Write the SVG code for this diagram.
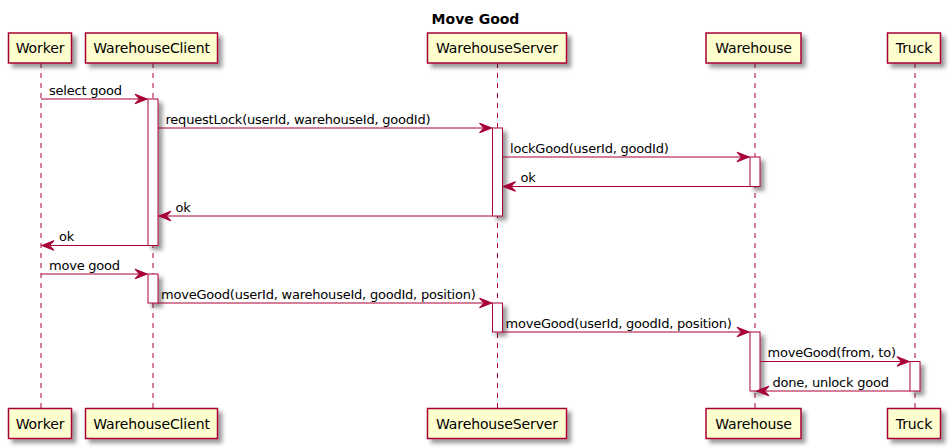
<svg xmlns="http://www.w3.org/2000/svg" width="949" height="448" viewBox="0 0 949 448">
<style>
.head{fill:#FEFECE;stroke:#A80036;stroke-width:1.5;}
.life{stroke:#A80036;stroke-width:1;stroke-dasharray:5,5;fill:none;}
.act{fill:#FFFFFF;stroke:#A80036;stroke-width:1;}
.pt{font-family:"DejaVu Sans",sans-serif;font-size:14px;fill:#000000;text-anchor:middle;letter-spacing:-0.12px;}
.msg{stroke:#A80036;stroke-width:1;fill:none;marker-end:url(#ah);}
.ml{font-family:"DejaVu Sans",sans-serif;font-size:13px;fill:#000000;letter-spacing:-0.22px;}
.title{font-family:"DejaVu Sans",sans-serif;font-size:14px;font-weight:bold;fill:#000000;text-anchor:middle;}
</style>
<defs>
<filter id="sh" x="-1" y="-1" width="300%" height="300%">
<feGaussianBlur in="SourceAlpha" result="b" stdDeviation="2"/>
<feColorMatrix in="b" result="b2" type="matrix" values="0 0 0 0 0 0 0 0 0 0 0 0 0 0 0 0 0 0 .4 0"/>
<feOffset dx="4" dy="4" in="b2" result="b3"/>
<feBlend in="SourceGraphic" in2="b3" mode="normal"/>
</filter>
<marker id="ah" markerUnits="userSpaceOnUse" markerWidth="12" markerHeight="10" refX="10" refY="4" orient="auto" viewBox="0 0 10 8" overflow="visible">
<path d="M0,0 L10,4 L0,8 L4,4 Z" fill="#A80036" stroke="#A80036" stroke-width="1"/>
</marker>
</defs>
<rect width="949" height="448" fill="#FFFFFF"/>
<text class="title" x="475.5" y="23.5">Move Good</text>

<g id="worker">
<line class="life" x1="41" y1="63" x2="41" y2="408"/>
<rect class="head" x="8.5" y="33" width="63" height="30" filter="url(#sh)"/>
<text class="pt" x="40" y="53">Worker</text>
<rect class="head" x="8.5" y="408.5" width="63" height="30" filter="url(#sh)"/>
<text class="pt" x="40" y="428.5">Worker</text>
</g>

<g id="warehouseclient">
<line class="life" x1="153" y1="63" x2="153" y2="408"/>
<rect class="head" x="85.5" y="33" width="132" height="30" filter="url(#sh)"/>
<text class="pt" x="151.5" y="53">WarehouseClient</text>
<rect class="head" x="85.5" y="408.5" width="132" height="30" filter="url(#sh)"/>
<text class="pt" x="151.5" y="428.5">WarehouseClient</text>
<rect class="act" x="148" y="99" width="10" height="146.5" filter="url(#sh)"/>
<rect class="act" x="148" y="274" width="10" height="29" filter="url(#sh)"/>
</g>

<g id="warehouseserver">
<line class="life" x1="497.5" y1="63" x2="497.5" y2="408"/>
<rect class="head" x="427.5" y="33" width="139" height="30" filter="url(#sh)"/>
<text class="pt" x="497" y="53">WarehouseServer</text>
<rect class="head" x="427.5" y="408.5" width="139" height="30" filter="url(#sh)"/>
<text class="pt" x="497" y="428.5">WarehouseServer</text>
<rect class="act" x="492.5" y="128" width="10" height="88" filter="url(#sh)"/>
<rect class="act" x="492.5" y="303" width="10" height="29" filter="url(#sh)"/>
</g>

<g id="warehouse">
<line class="life" x1="755" y1="63" x2="755" y2="408"/>
<rect class="head" x="706" y="33" width="95" height="30" filter="url(#sh)"/>
<text class="pt" x="753.5" y="53">Warehouse</text>
<rect class="head" x="706" y="408.5" width="95" height="30" filter="url(#sh)"/>
<text class="pt" x="753.5" y="428.5">Warehouse</text>
<rect class="act" x="750" y="157" width="10" height="29.5" filter="url(#sh)"/>
<rect class="act" x="750" y="332" width="10" height="59" filter="url(#sh)"/>
</g>

<g id="truck">
<line class="life" x1="915" y1="63" x2="915" y2="408"/>
<rect class="head" x="887.5" y="33" width="53" height="30" filter="url(#sh)"/>
<text class="pt" x="914" y="53">Truck</text>
<rect class="head" x="887.5" y="408.5" width="53" height="30" filter="url(#sh)"/>
<text class="pt" x="914" y="428.5">Truck</text>
<rect class="act" x="910" y="361.5" width="10" height="29.5" filter="url(#sh)"/>
</g>

<g id="connectors">
<line class="msg" x1="41" y1="99" x2="147" y2="99"/>
<text class="ml" x="49" y="94.5">select good</text>

<line class="msg" x1="158" y1="128" x2="491.5" y2="128"/>
<text class="ml" x="165.5" y="123.5">requestLock(userId, warehouseId, goodId)</text>

<line class="msg" x1="502.5" y1="157" x2="749" y2="157"/>
<text class="ml" x="510" y="152.5">lockGood(userId, goodId)</text>

<line class="msg" x1="750" y1="186.5" x2="503.5" y2="186.5"/>
<text class="ml" x="520.5" y="182">ok</text>

<line class="msg" x1="492.5" y1="216" x2="159" y2="216"/>
<text class="ml" x="175.5" y="211.5">ok</text>

<line class="msg" x1="148" y1="245.5" x2="42" y2="245.5"/>
<text class="ml" x="59" y="241">ok</text>

<line class="msg" x1="41" y1="274" x2="147" y2="274"/>
<text class="ml" x="49" y="269.5">move good</text>

<line class="msg" x1="158" y1="303" x2="491.5" y2="303"/>
<text class="ml" x="161" y="298.5">moveGood(userId, warehouseId, goodId, position)</text>

<line class="msg" x1="502.5" y1="332" x2="749" y2="332"/>
<text class="ml" x="505.5" y="327.5">moveGood(userId, goodId, position)</text>

<line class="msg" x1="760" y1="361.5" x2="909" y2="361.5"/>
<text class="ml" x="767.5" y="357">moveGood(from, to)</text>

<line class="msg" x1="910" y1="391" x2="757" y2="391"/>
<text class="ml" x="772.5" y="386.5">done, unlock good</text>
</g>
</svg>
